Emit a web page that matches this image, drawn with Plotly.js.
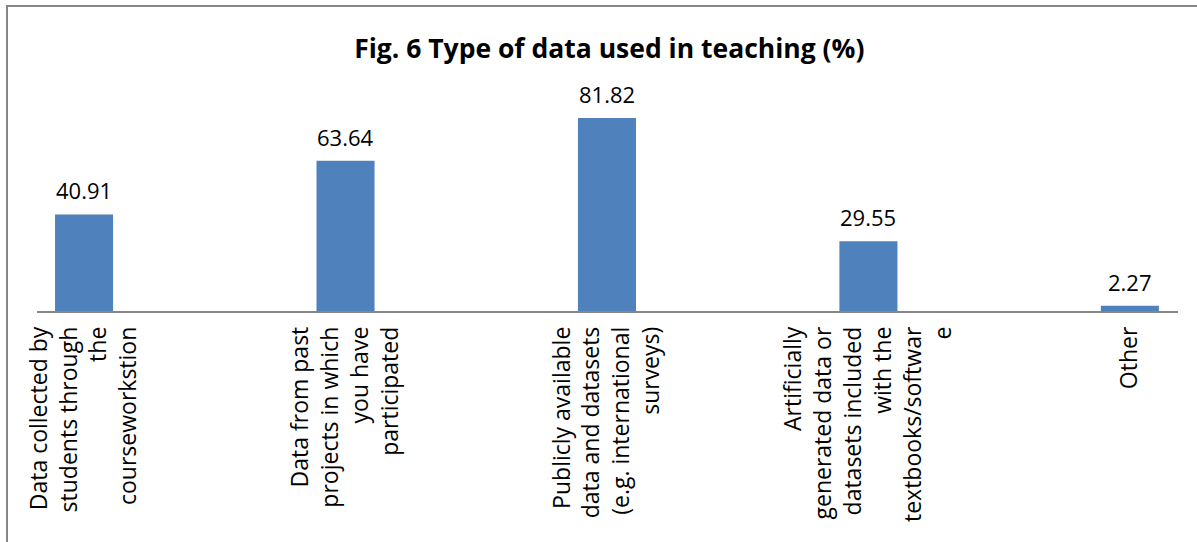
<!DOCTYPE html>
<html>
<head>
<meta charset="utf-8">
<script src="https://cdn.plot.ly/plotly-3.0.1.min.js"></script>
<style>
  body { margin: 0; background: #fff; }
  #chart { position: absolute; left: 0; top: 0; width: 1197px; height: 542px; }
  #frame { position: absolute; left: 6px; top: 5px; width: 1300px; height: 700px;
           border-left: 2px solid #868686; border-top: 2px solid #868686; pointer-events: none; }
</style>
</head>
<body>
<div id="chart"></div>
<div id="frame"></div>
<script>
// categories as shown on the x axis (line breaks as in the original)
const categories = [
   "Data collected by<br>students through<br>the<br>courseworkstion",
   "Data from past<br>projects in which<br>you have<br>participated",
   "Publicly available<br>data and datasets<br>(e.g. international<br>surveys)",
   "Artificially<br>generated data or<br>datasets included<br>with the<br>textbooks/softwar<br>e",
   "Other"
];
const percents = [40.91, 63.64, 81.82, 29.55, 2.27];

const fontFam = "'Open Sans', 'Liberation Sans', sans-serif";

var data = [
   {
      type: "bar",
      x: categories,
      y: percents,
      width: 0.222,
      marker: { color: "#4F81BD", line: { width: 0 } },
      hoverinfo: "none",
   },
];

var labels = percents.map(function (v, i) {
   return {
      x: categories[i],
      y: v,
      xref: "x",
      yref: "y",
      text: v.toFixed(2),
      showarrow: false,
      yanchor: "bottom",
      yshift: 7,
      font: { family: fontFam, size: 22, color: "#000" },
   };
});

var layout = {
   width: 1197,
   height: 542,
   autosize: false,
   paper_bgcolor: "rgba(0,0,0,0)",
   plot_bgcolor: "rgba(0,0,0,0)",
   showlegend: false,
   margin: { l: 37, r: 19, t: 75, b: 231 },
   title: {
      text: "<b>Fig. 6 Type of data used in teaching (%)</b>",
      xref: "container",
      yref: "container",
      x: 0.509,
      y: 0.911,
      xanchor: "center",
      yanchor: "middle",
      font: { family: fontFam, size: 26.5, color: "#000" },
   },
   xaxis: {
      type: "category",
      range: [-0.18, 4.184],
      showline: true,
      linecolor: "#868686",
      linewidth: 1.5,
      showgrid: false,
      zeroline: false,
      ticks: "",
      tickangle: -90,
      ticklabelstandoff: 5,
      tickfont: { family: fontFam, size: 23, color: "#000" },
   },
   yaxis: {
      range: [0, 100],
      visible: false,
      showgrid: false,
      zeroline: false,
   },
   annotations: labels,
};

Plotly.newPlot("chart", data, layout, { staticPlot: true });
</script>
</body>
</html>
